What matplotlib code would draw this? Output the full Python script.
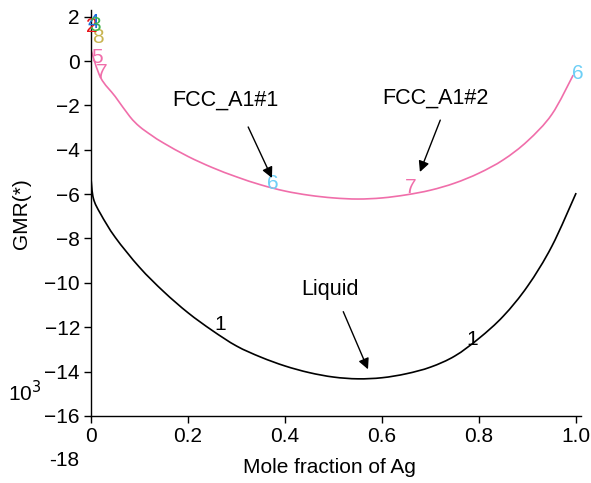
import matplotlib
matplotlib.use('Agg')
import matplotlib.pyplot as plt
from matplotlib.path import Path
from matplotlib.patches import PathPatch

plt.rcParams['font.family'] = ['Liberation Sans', 'DejaVu Sans']

# Liquid (curve label 1)
liquid_x = [0.0, 0.005, 0.02, 0.05, 0.1, 0.15, 0.2, 0.25, 0.3, 0.35, 0.4, 0.45,
            0.5, 0.55, 0.6, 0.65, 0.7, 0.75, 0.8, 0.85, 0.9, 0.95, 1.0]
liquid_y = [-5.3, -6.2, -6.9, -7.95, -9.3, -10.4, -11.35, -12.15, -12.85, -13.35,
            -13.75, -14.05, -14.25, -14.33, -14.28, -14.1, -13.8, -13.3, -12.5,
            -11.5, -10.15, -8.35, -5.95]

# FCC_A1 (curve labels 6 / 7)
fcc_x = [0.0, 0.02, 0.05, 0.08, 0.1, 0.125, 0.15, 0.2, 0.25, 0.3, 0.35, 0.4,
         0.45, 0.5, 0.55, 0.6, 0.65, 0.7, 0.75, 0.8, 0.85, 0.9, 0.95, 0.994]
fcc_y = [0.5, -0.75, -1.6, -2.5, -2.95, -3.35, -3.7, -4.3, -4.8, -5.22, -5.58,
         -5.86, -6.05, -6.17, -6.22, -6.17, -6.03, -5.82, -5.5, -5.05, -4.45,
         -3.6, -2.4, -0.63]

x_ticks = [0, 0.2, 0.4, 0.6, 0.8, 1.0]
x_tick_labels = ['0', '0.2', '0.4', '0.6', '0.8', '1.0']
y_ticks = [2, 0, -2, -4, -6, -8, -10, -12, -14, -16]

# curve labels: (text, x, y, colour)
curve_labels = [
    ('1', 0.266, -11.9, 'black'),
    ('1', 0.786, -12.57, 'black'),
    ('6', 0.375, -5.5, '#6DCFF6'),
    ('6', 1.004, -0.54, '#6DCFF6'),
    ('7', 0.66, -5.68, '#F06EAA'),
    ('7', 0.023, -0.5, '#F06EAA'),
    ('5', 0.012, 0.18, '#F06EAA'),
    ('8', 0.014, 1.08, '#C8B450'),
    ('2', 0.002, 1.55, '#E8141B'),
    ('4', 0.005, 1.75, '#1E6FD9'),
    ('3', 0.008, 1.62, '#3DB54A'),
]

# annotations: (text, text x, text y, arrow tail, arrow head)
phase_notes = [
    ('FCC_A1#1', 0.276, -1.76, (0.324, -2.97), (0.373, -5.27)),
    ('FCC_A1#2', 0.709, -1.67, (0.72, -2.66), (0.678, -5.0)),
    ('Liquid', 0.493, -10.3, (0.52, -11.3), (0.571, -13.9)),
]


def smooth_path(xs, ys):
    # Catmull-Rom style cubic segments through the read points
    verts = [(xs[0], ys[0])]
    codes = [Path.MOVETO]
    n = len(xs)
    for i in range(n - 1):
        x0, y0 = (xs[i - 1], ys[i - 1]) if i > 0 else (xs[i], ys[i])
        x1, y1 = xs[i], ys[i]
        x2, y2 = xs[i + 1], ys[i + 1]
        x3, y3 = (xs[i + 2], ys[i + 2]) if i + 2 < n else (x2, y2)
        c1 = (x1 + (x2 - x0) / 6, y1 + (y2 - y0) / 6)
        c2 = (x2 - (x3 - x1) / 6, y2 - (y3 - y1) / 6)
        verts += [c1, c2, (x2, y2)]
        codes += [Path.CURVE4] * 3
    return Path(verts, codes)


fig = plt.figure(figsize=(5.91, 4.83), dpi=100)
ax = fig.add_axes([0.154, 0.139, 0.829, 0.84])

ax.add_patch(PathPatch(smooth_path(liquid_x, liquid_y), fill=False,
                       edgecolor='black', lw=1.2))
ax.add_patch(PathPatch(smooth_path(fcc_x, fcc_y), fill=False,
                       edgecolor='#F06EAA', lw=1.2))

for txt, x, y, c in curve_labels:
    ax.text(x, y, txt, color=c, fontsize=15, ha='center', va='center')

for txt, tx, ty, tail, head in phase_notes:
    ax.text(tx, ty, txt, fontsize=15.5, ha='center', va='center')
    ax.annotate('', xy=head, xytext=tail,
                arrowprops=dict(arrowstyle='-|>', color='black', lw=1.0,
                                mutation_scale=16, shrinkA=0, shrinkB=0))

ax.set_xlim(0, 1.01)
ax.set_ylim(-16, 2.3)
ax.set_xticks(x_ticks)
ax.set_xticklabels(x_tick_labels)
ax.set_yticks(y_ticks)
ax.tick_params(direction='out', length=5, width=1, labelsize=15, pad=3)
for s in ['top', 'right']:
    ax.spines[s].set_visible(False)
for s in ['left', 'bottom']:
    ax.spines[s].set_linewidth(1.0)

# stray -18 label below the axis
ax.text(-0.025, -18, '-18', fontsize=15, ha='right', va='center', clip_on=False)

fig.text(0.037, 0.557, 'GMR(*)', rotation=90, fontsize=15, ha='center', va='center')
fig.text(0.042, 0.188, '10$^3$', fontsize=15, ha='center', va='center')
fig.text(0.558, 0.033, 'Mole fraction of Ag', fontsize=15, ha='center', va='center')

fig.savefig('out.png', dpi=100)
